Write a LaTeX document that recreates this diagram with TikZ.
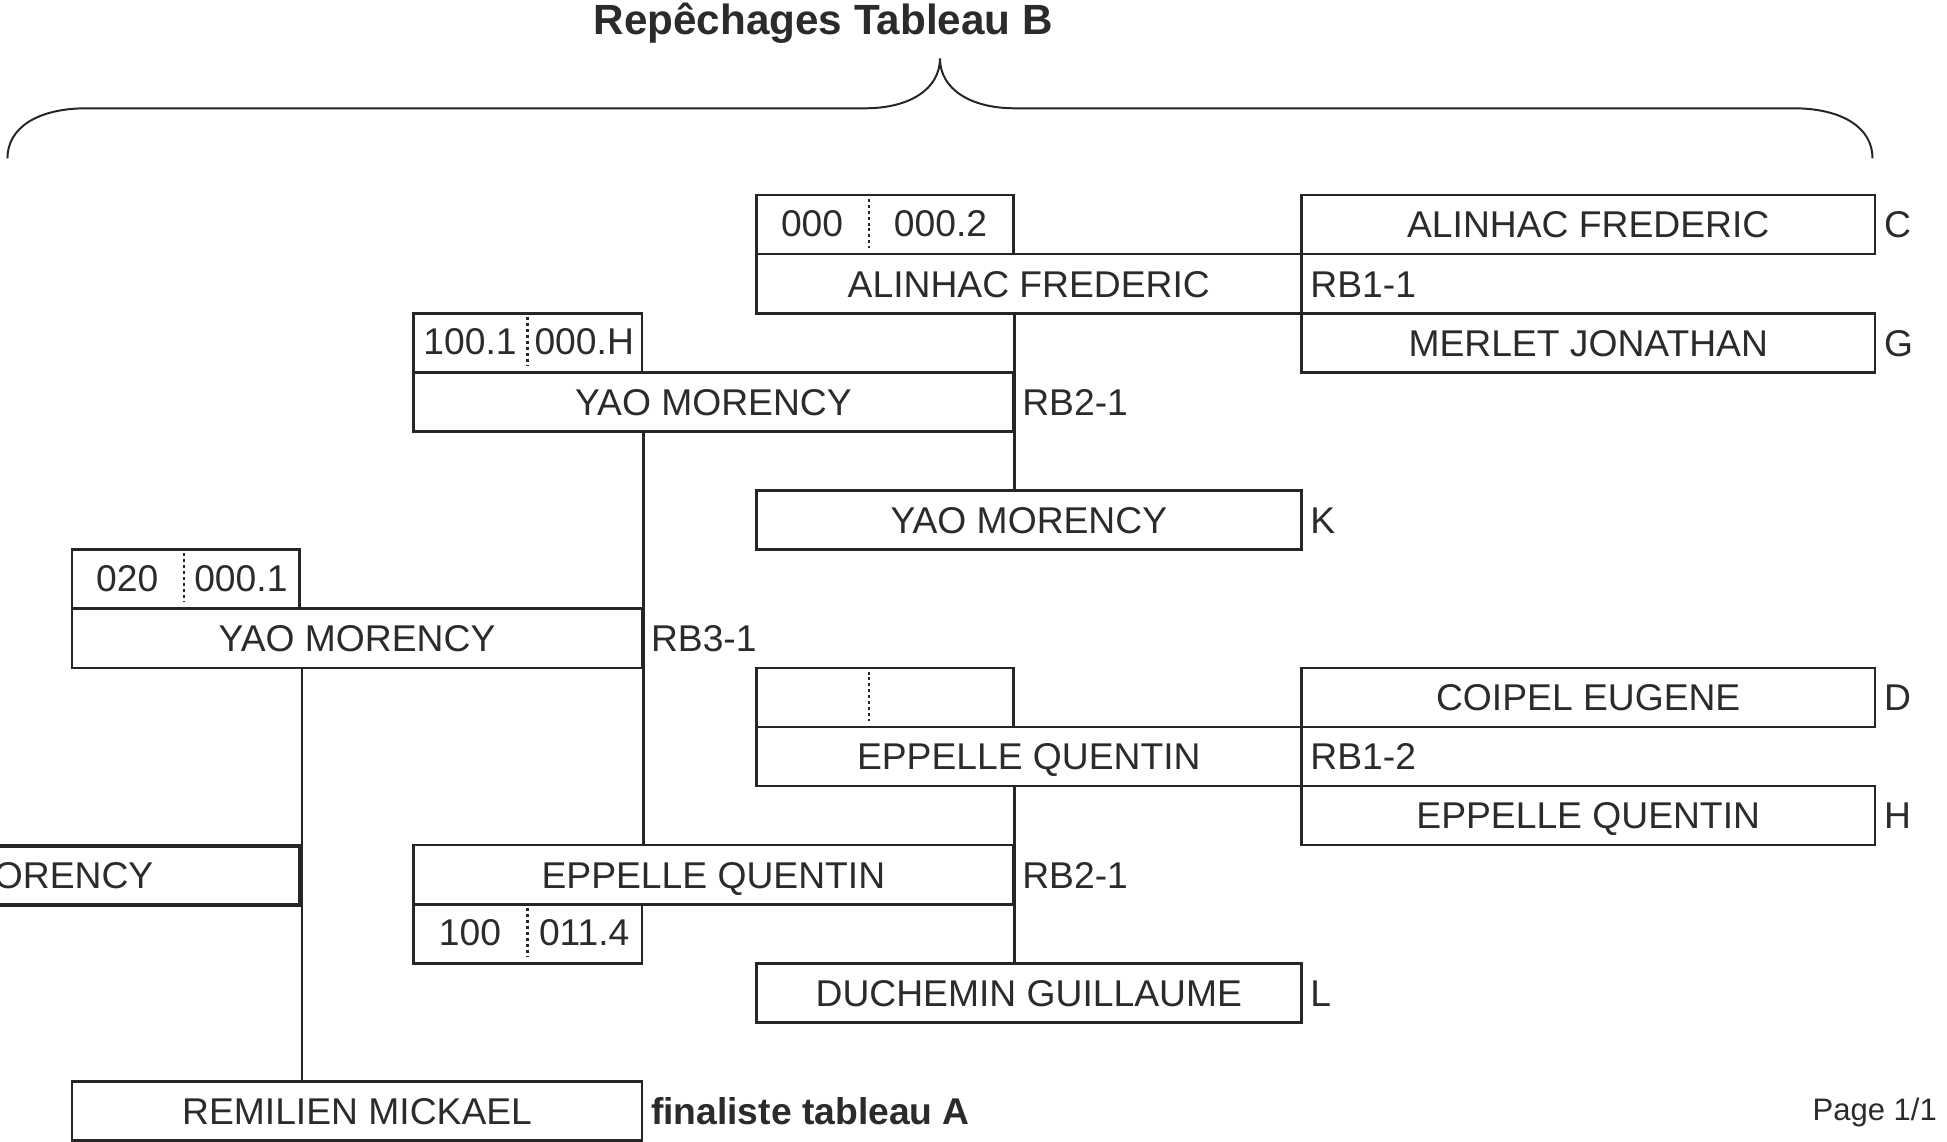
\documentclass[tikz,border=0pt]{standalone}
\usepackage{fontspec}
\setmainfont{Liberation Sans}
\usetikzlibrary{calc}
\definecolor{ink}{HTML}{262626}
\definecolor{txtc}{HTML}{2B2B2B}
\tikzset{
  box/.style={draw=ink, line width=2.1pt, inner sep=0pt, minimum height=47.6pt, text=txtc,
    anchor=north west, font=\fontsize{30}{36}\selectfont, text height=21.5pt, text depth=0pt},
  finbox/.style={box, line width=3.1pt},
  txt/.style={inner sep=0pt, text=txtc, font=\fontsize{30}{36}\selectfont, text height=21.5pt, text depth=0pt},
  lbl/.style={txt, anchor=west},
  conn/.style={draw=ink, line width=2.1pt},
  divider/.style={draw=ink, line width=2pt, dash pattern=on 2.4pt off 2.4pt},
  bracestyle/.style={draw=ink, line width=1.6pt}
}
\begin{document}
\begin{tikzpicture}[x=1pt, y=-1pt]
\clip (0,0) rectangle (1568,919);
\fill[white] (0,0) rectangle (1568,919);

% title and brace
\node[inner sep=0pt, anchor=base, text=txtc, font=\fontsize{34}{40}\selectfont\bfseries] (title) at (663,28) {Repêchages Tableau B};
\draw[bracestyle] (6,127.5) .. controls (6,103) and (30,87.2) .. (70,87.2)
  -- (697,87.2) .. controls (732,87.2) and (757,72) .. (757,47)
  .. controls (757,72) and (782,87.2) .. (817,87.2)
  -- (1444,87.2) .. controls (1484,87.2) and (1508,103) .. (1508,127.5);

% round 1 entries
\node[box, minimum width=462pt] (c) at (1047,156) {ALINHAC FREDERIC};
\node[box, minimum width=462pt] (g) at (1047,251.2) {MERLET JONATHAN};
\node[box, minimum width=462pt] (d) at (1047,536.8) {COIPEL EUGENE};
\node[box, minimum width=462pt] (h) at (1047,632) {EPPELLE QUENTIN};
\node[lbl] (lc) at ($(c.east)+(6,0)$) {C};
\node[lbl] (lg) at ($(g.east)+(6,0)$) {G};
\node[lbl] (ld) at ($(d.east)+(6,0)$) {D};
\node[lbl] (lh) at ($(h.east)+(6,0)$) {H};

% RB1 matches
\node[box, minimum width=207pt] (rb11s) at (608,156) {};
\node[box, minimum width=439pt] (rb11) at (608,203.6) {ALINHAC FREDERIC};
\draw[divider] (700,160) -- (700,199.5);
\node[txt] (rb11a) at (654,179.8) {000};
\node[txt] (rb11b) at (757.5,179.8) {000.2};
\node[lbl] (lrb11) at ($(rb11.east)+(6,0)$) {RB1-1};

\node[box, minimum width=207pt] (rb12s) at (608,536.8) {};
\node[box, minimum width=439pt] (rb12) at (608,584.4) {EPPELLE QUENTIN};
\draw[divider] (700,540.8) -- (700,580.3);
\node[lbl] (lrb12) at ($(rb12.east)+(6,0)$) {RB1-2};

% K and L entries
\node[box, minimum width=439pt] (k) at (608,394) {YAO MORENCY};
\node[lbl] (lk) at ($(k.east)+(6,0)$) {K};
\node[box, minimum width=439pt] (l) at (608,774.8) {DUCHEMIN GUILLAUME};
\node[lbl] (ll) at ($(l.east)+(6,0)$) {L};

% RB2 matches
\node[box, minimum width=184pt] (rb21s) at (332,251.2) {};
\node[box, minimum width=483pt] (rb21) at (332,298.8) {YAO MORENCY};
\draw[divider] (425,255.2) -- (425,294.7);
\node[txt] (rb21a) at (378.5,275) {100.1};
\node[txt] (rb21b) at (470.5,275) {000.H};
\node[lbl] (lrb21) at ($(rb21.east)+(6,0)$) {RB2-1};

\node[box, minimum width=483pt] (rb22) at (332,679.6) {EPPELLE QUENTIN};
\node[box, minimum width=184pt] (rb22s) at (332,727.2) {};
\draw[divider] (425,731.2) -- (425,770.7);
\node[txt] (rb22a) at (378.5,751) {100};
\node[txt] (rb22b) at (470.5,751) {011.4};
\node[lbl] (lrb22) at ($(rb22.east)+(6,0)$) {RB2-1};

% RB3 match
\node[box, minimum width=183pt] (rb31s) at (57,441.6) {};
\node[box, minimum width=459pt] (rb31) at (57,489.2) {YAO MORENCY};
\draw[divider] (148,445.6) -- (148,485.1);
\node[txt] (rb31a) at (102.5,465.4) {020};
\node[txt] (rb31b) at (194,465.4) {000.1};
\node[lbl] (lrb31) at ($(rb31.east)+(6,0)$) {RB3-1};

% final
\node[finbox, minimum width=459pt] (fin) at (-219,679.6) {YAO MORENCY};
\node[box, minimum width=459pt] (rem) at (57,870) {REMILIEN MICKAEL};
\node[lbl, font=\fontsize{30}{36}\selectfont\bfseries] (lrem) at ($(rem.east)+(6,0)$) {finaliste tableau A};

% connectors
\draw[conn] (rb21.east |- rb11.south) -- (rb21.east |- k.north);
\draw[conn] (rb31.east |- rb21.south) -- (rb31.east |- rb22.north);
\draw[conn] (rb22.east |- rb12.south) -- (rb22.east |- l.north);
\draw[conn] (fin.east |- rb31.south) -- (fin.east |- rem.north);

% footer
\node[inner sep=0pt, anchor=base east, text=txtc, font=\fontsize{25}{30}\selectfont] (page) at (1560,902.6) {Page 1/1};
\end{tikzpicture}
\end{document}
